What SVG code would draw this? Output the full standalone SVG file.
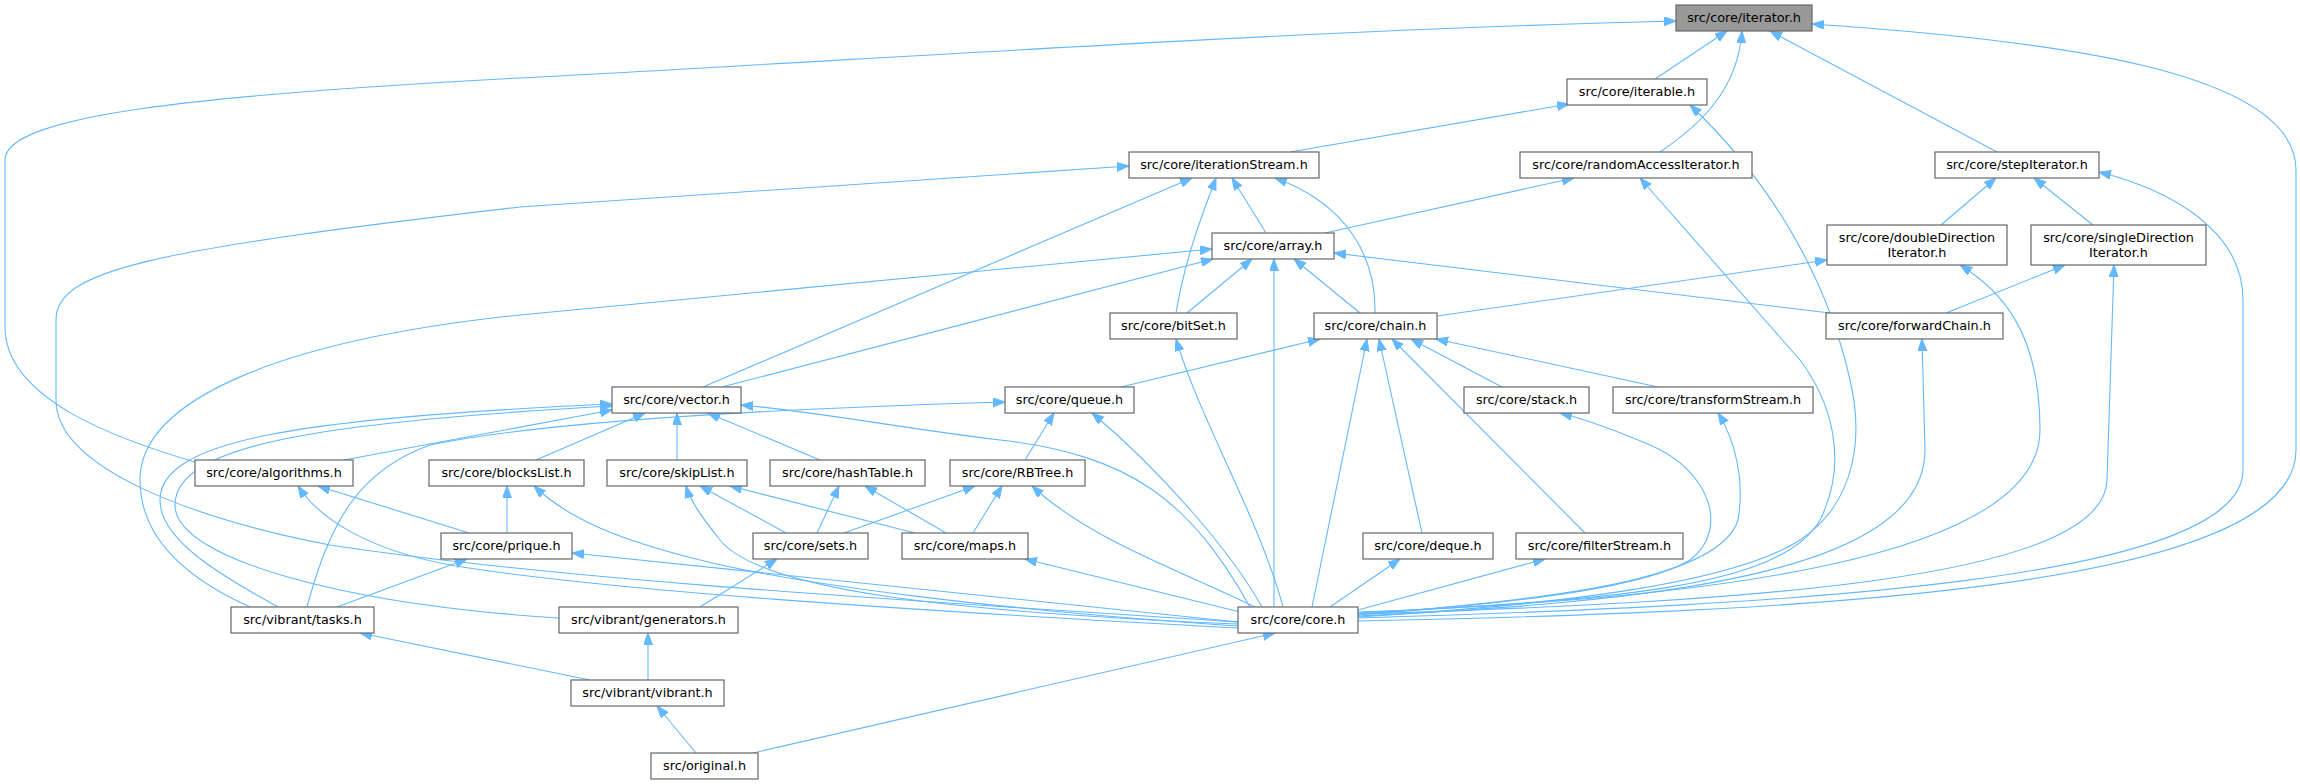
<svg xmlns="http://www.w3.org/2000/svg" width="2300" height="784" viewBox="0 0 2300 784">
<style>
.n rect{fill:#ffffff;stroke:#666666;stroke-width:1.2}
.n.g rect{fill:#999999}
.n text{font-family:"DejaVu Sans","Liberation Sans",sans-serif;font-size:12.8px;text-anchor:middle;fill:#000000}
#edges path{fill:none;stroke:#63b8ff;stroke-width:1.1;marker-end:url(#a)}
</style>
<defs>
<marker id="a" markerUnits="userSpaceOnUse" markerWidth="13" markerHeight="10" refX="12" refY="4.5" orient="auto">
<path d="M0,0 L12,4.5 L0,9 z" fill="#63b8ff" stroke="#63b8ff" stroke-width="1"/>
</marker>
</defs>
<rect x="0" y="0" width="2300" height="784" fill="#ffffff"/>
<g id="edges">
<path d="M1655,79 L1727,31"/>
<path d="M1660,152 C1700,125 1738,90 1742,31"/>
<path d="M1997,152 L1770,31"/>
<path d="M195,462 C120,440 5,400 5,327 L5,160 C5,115 200,95 520,78 C900,58 1300,30 1676,21"/>
<path d="M1358,621 C1800,612 2296,590 2296,450 L2296,170 C2296,70 2050,40 1812,24"/>
<path d="M1290,152 L1569,104"/>
<path d="M1358,617 C1550,605 1730,585 1800,540 C1860,500 1862,430 1850,380 C1830,290 1780,190 1690,105"/>
<path d="M1266,233 L1232,178"/>
<path d="M1176,313 C1185,260 1200,220 1216,178"/>
<path d="M1375,313 C1376,260 1350,205 1275,178"/>
<path d="M703,387 L1192,178"/>
<path d="M1238,622 C900,600 560,580 330,545 C200,520 56,470 56,400 L56,320 C56,270 150,250 520,207 L1129,166"/>
<path d="M1325,233 L1574,178"/>
<path d="M1358,613 C1600,600 1780,590 1820,520 C1850,460 1830,400 1800,360 L1640,178"/>
<path d="M1941,225 L1996,178"/>
<path d="M2093,225 L2034,178"/>
<path d="M1358,618 C1800,605 2243,580 2243,470 L2243,300 C2243,230 2170,190 2099,172"/>
<path d="M1187,313 L1252,259"/>
<path d="M1360,313 L1294,259"/>
<path d="M722,387 L1213,259"/>
<path d="M250,607 C190,580 140,540 140,480 C140,400 280,340 520,315 L1212,249"/>
<path d="M1830,313 L1334,253"/>
<path d="M1274,607 L1274,259"/>
<path d="M1437,316 L1827,260"/>
<path d="M1358,612 C1700,600 2040,560 2040,430 C2040,330 2000,290 1960,265"/>
<path d="M1946,313 L2065,265"/>
<path d="M1358,614 C1750,602 2104,580 2107,480 L2114,265"/>
<path d="M1283,607 C1260,520 1200,420 1176,339"/>
<path d="M1121,387 L1320,339"/>
<path d="M1502,387 L1411,339"/>
<path d="M1658,387 L1436,339"/>
<path d="M1422,533 L1379,339"/>
<path d="M1585,533 L1392,339"/>
<path d="M1312,607 L1367,339"/>
<path d="M1358,616 C1650,602 1925,575 1925,450 L1922,339"/>
<path d="M344,460 L612,410"/>
<path d="M536,460 L645,413"/>
<path d="M677,460 L677,413"/>
<path d="M820,460 L708,413"/>
<path d="M278,607 C220,575 160,540 160,500 C160,440 300,418 612,404"/>
<path d="M559,618 C350,605 175,560 175,505 C175,445 320,422 612,406"/>
<path d="M1250,607 C1190,500 1130,455 1000,440 C900,428 820,412 741,405"/>
<path d="M1025,460 L1054,413"/>
<path d="M307,607 C330,520 360,470 430,445 C550,420 800,408 1005,402"/>
<path d="M1262,607 C1230,550 1160,470 1092,413"/>
<path d="M1358,614 C1500,605 1640,590 1690,560 C1730,530 1710,470 1650,445 C1610,428 1580,418 1560,413"/>
<path d="M1358,615 C1550,600 1720,580 1738,520 C1745,480 1735,440 1718,413"/>
<path d="M469,533 L318,486"/>
<path d="M1238,628 C900,610 600,590 450,565 C370,550 320,520 298,486"/>
<path d="M507,533 L507,486"/>
<path d="M1238,626 C1000,610 800,585 700,560 C620,540 570,520 534,486"/>
<path d="M786,533 L700,486"/>
<path d="M915,533 L730,486"/>
<path d="M1238,624 C950,612 760,590 720,540 C700,515 690,500 686,486"/>
<path d="M817,533 L839,486"/>
<path d="M946,533 L865,486"/>
<path d="M844,533 L975,486"/>
<path d="M973,533 L1002,486"/>
<path d="M1255,607 C1180,570 1090,540 1032,486"/>
<path d="M337,607 L467,559"/>
<path d="M1238,622 L572,553"/>
<path d="M700,607 L777,559"/>
<path d="M1240,612 L1025,559"/>
<path d="M1330,607 L1400,559"/>
<path d="M1358,610 L1545,559"/>
<path d="M590,680 L360,633"/>
<path d="M648,680 L648,633"/>
<path d="M696,753 L657,706"/>
<path d="M753,753 L1275,633"/>
</g>
<g id="n_iterator" class="n g"><rect x="1676" y="5" width="136" height="26"/><text x="1744" y="22">src/core/iterator.h</text></g>
<g id="n_iterable" class="n"><rect x="1567" y="79" width="140" height="26"/><text x="1637" y="96">src/core/iterable.h</text></g>
<g id="n_iterationStream" class="n"><rect x="1129" y="152" width="190" height="26"/><text x="1224" y="169">src/core/iterationStream.h</text></g>
<g id="n_randomAccessIterator" class="n"><rect x="1520" y="152" width="232" height="26"/><text x="1636" y="169">src/core/randomAccessIterator.h</text></g>
<g id="n_stepIterator" class="n"><rect x="1935" y="152" width="164" height="26"/><text x="2017" y="169">src/core/stepIterator.h</text></g>
<g id="n_array" class="n"><rect x="1212" y="233" width="122" height="26"/><text x="1273" y="250">src/core/array.h</text></g>
<g id="n_doubleDirection" class="n"><rect x="1827" y="225" width="180" height="40"/><text x="1917" y="242">src/core/doubleDirection</text><text x="1917" y="256.5">Iterator.h</text></g>
<g id="n_singleDirection" class="n"><rect x="2031" y="225" width="175" height="40"/><text x="2118.5" y="242">src/core/singleDirection</text><text x="2118.5" y="256.5">Iterator.h</text></g>
<g id="n_bitSet" class="n"><rect x="1110" y="313" width="127" height="26"/><text x="1173.5" y="330">src/core/bitSet.h</text></g>
<g id="n_chain" class="n"><rect x="1314" y="313" width="123" height="26"/><text x="1375.5" y="330">src/core/chain.h</text></g>
<g id="n_forwardChain" class="n"><rect x="1826" y="313" width="177" height="26"/><text x="1914.5" y="330">src/core/forwardChain.h</text></g>
<g id="n_vector" class="n"><rect x="612" y="387" width="129" height="26"/><text x="676.5" y="404">src/core/vector.h</text></g>
<g id="n_queue" class="n"><rect x="1005" y="387" width="129" height="26"/><text x="1069.5" y="404">src/core/queue.h</text></g>
<g id="n_stack" class="n"><rect x="1464" y="387" width="125" height="26"/><text x="1526.5" y="404">src/core/stack.h</text></g>
<g id="n_transformStream" class="n"><rect x="1613" y="387" width="200" height="26"/><text x="1713" y="404">src/core/transformStream.h</text></g>
<g id="n_algorithms" class="n"><rect x="195" y="460" width="158" height="26"/><text x="274" y="477">src/core/algorithms.h</text></g>
<g id="n_blocksList" class="n"><rect x="429" y="460" width="155" height="26"/><text x="506.5" y="477">src/core/blocksList.h</text></g>
<g id="n_skipList" class="n"><rect x="607" y="460" width="140" height="26"/><text x="677" y="477">src/core/skipList.h</text></g>
<g id="n_hashTable" class="n"><rect x="770" y="460" width="155" height="26"/><text x="847.5" y="477">src/core/hashTable.h</text></g>
<g id="n_RBTree" class="n"><rect x="950" y="460" width="135" height="26"/><text x="1017.5" y="477">src/core/RBTree.h</text></g>
<g id="n_prique" class="n"><rect x="441" y="533" width="131" height="26"/><text x="506.5" y="550">src/core/prique.h</text></g>
<g id="n_sets" class="n"><rect x="753" y="533" width="115" height="26"/><text x="810.5" y="550">src/core/sets.h</text></g>
<g id="n_maps" class="n"><rect x="902" y="533" width="126" height="26"/><text x="965" y="550">src/core/maps.h</text></g>
<g id="n_deque" class="n"><rect x="1363" y="533" width="130" height="26"/><text x="1428" y="550">src/core/deque.h</text></g>
<g id="n_filterStream" class="n"><rect x="1516" y="533" width="167" height="26"/><text x="1599.5" y="550">src/core/filterStream.h</text></g>
<g id="n_tasks" class="n"><rect x="231" y="607" width="143" height="26"/><text x="302.5" y="624">src/vibrant/tasks.h</text></g>
<g id="n_generators" class="n"><rect x="559" y="607" width="179" height="26"/><text x="648.5" y="624">src/vibrant/generators.h</text></g>
<g id="n_core" class="n"><rect x="1238" y="607" width="120" height="26"/><text x="1298" y="624">src/core/core.h</text></g>
<g id="n_vibrant" class="n"><rect x="571" y="680" width="153" height="26"/><text x="647.5" y="697">src/vibrant/vibrant.h</text></g>
<g id="n_original" class="n"><rect x="651" y="753" width="107" height="26"/><text x="704.5" y="770">src/original.h</text></g>
</svg>
